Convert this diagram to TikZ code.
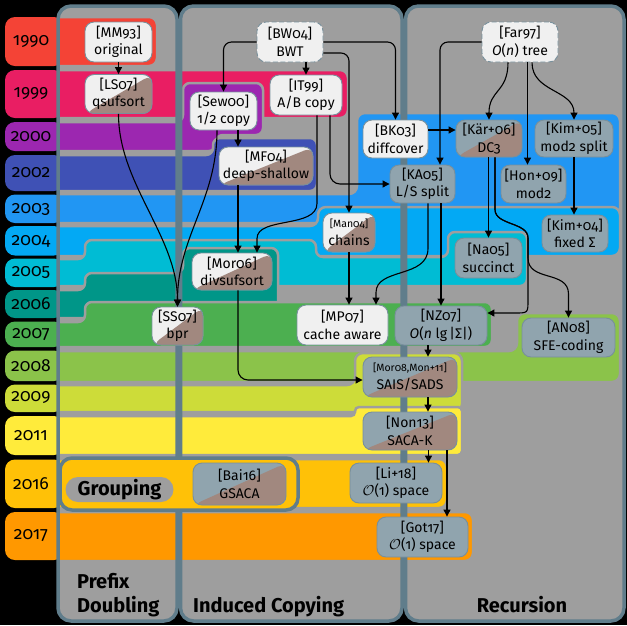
\documentclass[tikz,border=0pt]{standalone}
\usepackage{fontspec}
\setmainfont{Fira Sans}[Numbers=OldStyle]
\usetikzlibrary{arrows.meta}
\definecolor{colgray}{HTML}{9E9E9E}
\definecolor{colborder}{HTML}{607D8B}
\definecolor{ndwhite}{HTML}{F0F0F0}
\definecolor{ndgrey}{HTML}{90A4AE}
\definecolor{ndbrown}{HTML}{A1887F}
\definecolor{ndborder}{HTML}{78909C}
\definecolor{cRed}{HTML}{F44336}
\definecolor{cPink}{HTML}{E91E63}
\definecolor{cPurple}{HTML}{9C27B0}
\definecolor{cIndigo}{HTML}{3F51B5}
\definecolor{cBlue}{HTML}{2196F3}
\definecolor{cLBlue}{HTML}{03A9F4}
\definecolor{cCyan}{HTML}{00BCD4}
\definecolor{cTeal}{HTML}{009688}
\definecolor{cGreen}{HTML}{4CAF50}
\definecolor{cLGreen}{HTML}{8BC34A}
\definecolor{cLime}{HTML}{CDDC39}
\definecolor{cYellow}{HTML}{FFEB3B}
\definecolor{cAmber}{HTML}{FFC107}
\definecolor{cOrange}{HTML}{FF9800}
\newcommand{\ndfont}{\fontsize{14}{17.5}\selectfont}
\newcommand{\ndsmall}{\fontsize{10.5}{12}\selectfont}
\newcommand{\yrfont}{\fontsize{17.5}{20}\selectfont}
\newcommand{\hdfont}{\fontsize{20}{23}\selectfont\bfseries}
\begin{document}
\begin{tikzpicture}[x=1pt,y=-1pt,
  nd/.style={rounded corners=9pt, draw=ndborder, line width=0.9pt, align=center,
    inner xsep=2pt, inner ysep=1pt, font=\ndfont, text=black},
  wt/.style={nd, fill=ndwhite},
  gy/.style={nd, fill=ndgrey},
  dsh/.style={dash pattern=on 5pt off 2.5pt},
  wb/.style={nd, fill=ndwhite, path picture={\fill[ndbrown] (path picture bounding box.south west) -- (path picture bounding box.north east) -- (path picture bounding box.south east) -- cycle;}},
  gb/.style={nd, fill=ndgrey, path picture={\fill[ndbrown] (path picture bounding box.south west) -- (path picture bounding box.north east) -- (path picture bounding box.south east) -- cycle;}},
  arr/.style={-{Triangle[length=7pt,width=7pt]}, line width=1.1pt, black},
  band/.style={draw=colgray, line width=2.5pt, rounded corners=8},
  yr/.style={font=\yrfont, text=black, inner sep=0pt},
  hd/.style={font=\hdfont, text=black, inner sep=0pt, anchor=base west},
  colbox/.style={draw=colborder, line width=3.5pt, rounded corners=13}
]
\useasboundingbox (0,0) rectangle (627,625);
\fill[black] (0,0) rectangle (627,625);
% column fills
\fill[colgray, rounded corners=13] (58,6) rectangle (177,621);
\fill[colgray, rounded corners=13] (180.5,6) rectangle (402,621);
\fill[colgray, rounded corners=13] (405.5,6) rectangle (624,621);
% year bands
\filldraw[band, fill=cRed] (40,17) rectangle (157,66);
\filldraw[band, fill=cPink] (40,70) rectangle (348,118);
\filldraw[band, fill=cPurple, rounded corners=7] (40,122) -- (183,122) -- (183,83) -- (263,83) -- (263,135) -- (216,135) -- (216,151) -- (40,151) -- cycle;
\filldraw[band, fill=cIndigo, rounded corners=7] (40,155) -- (213,155) -- (213,138) -- (317,138) -- (317,191) -- (40,191) -- cycle;
\filldraw[band, fill=cBlue] (40,194) -- (357,194) -- (357,113) -- (620,113) -- (620,223) -- (40,223) -- cycle;
\filldraw[band, fill=cLBlue] (40,226) -- (318,226) -- (318,207) -- (620,207) -- (620,256) -- (40,256) -- cycle;
\filldraw[band, fill=cCyan, rounded corners=7] (40,259) -- (85,259) -- (85,240) -- (316,240) -- (316,257) -- (448,257) -- (448,232) -- (527,232) -- (527,286) -- (40,286) -- cycle;
\filldraw[band, fill=cTeal, rounded corners=7] (40,290) -- (85,290) -- (85,273) -- (183,273) -- (183,248) -- (278,248) -- (278,318) -- (40,318) -- cycle;
\filldraw[band, fill=cGreen, rounded corners=7] (40,322) -- (85,322) -- (85,302) -- (492,302) -- (492,347) -- (40,347) -- cycle;
\filldraw[band, fill=cLGreen] (40,351) -- (517,351) -- (517,313) -- (620,313) -- (620,382) -- (40,382) -- cycle;
\filldraw[band, fill=cLime] (40,385) -- (355,385) -- (355,353) -- (462,353) -- (462,412) -- (40,412) -- cycle;
\filldraw[band, fill=cYellow, rounded corners=4] (40,416) -- (355,416) -- (355,407) -- (462,407) -- (462,455) -- (40,455) -- cycle;
\filldraw[band, fill=cAmber] (40,459) rectangle (447,508);
\filldraw[band, fill=cOrange] (40,512) rectangle (473,561);
% left label area
\fill[black] (0,0) rectangle (56.5,625);
\fill[cRed, rounded corners=10] (5,17) rectangle (64,66);
\fill[cPink, rounded corners=10] (5,70) rectangle (64,118);
\fill[cPurple, rounded corners=10] (5,122) rectangle (64,151);
\fill[cIndigo, rounded corners=10] (5,155) rectangle (64,191);
\fill[cBlue, rounded corners=10] (5,194.5) rectangle (64,223);
\fill[cLBlue, rounded corners=10] (5,226) rectangle (64,255.5);
\fill[cCyan, rounded corners=10] (5,258.5) rectangle (64,287);
\fill[cTeal, rounded corners=10] (5,290) rectangle (64,318);
\fill[cGreen, rounded corners=10] (5,321.5) rectangle (64,347);
\fill[cLGreen, rounded corners=10] (5,350.5) rectangle (64,381);
\fill[cLime, rounded corners=10] (5,384.5) rectangle (64,412);
\fill[cYellow, rounded corners=10] (5,416) rectangle (64,455);
\fill[cAmber, rounded corners=10] (5,459.5) rectangle (64,508);
\fill[cOrange, rounded corners=10] (5,512) rectangle (64,560);
% column borders
\draw[colbox] (58,6) rectangle (177,621);
\draw[colbox] (180.5,6) rectangle (402,621);
\draw[colbox] (405.5,6) rectangle (624,621);
% grouping box
\filldraw[fill=cAmber, draw=colborder, line width=3.5pt, rounded corners=12] (60,458) rectangle (298,510);
\node[fill=colgray, rounded corners=12.5pt, minimum width=108pt, minimum height=25pt, inner sep=0pt, font=\hdfont] (grp) at (119.5,489.5) {Grouping};
% year labels
\node[yr] (y1990) at (31,41.5) {1990};
\node[yr] (y1999) at (31,94) {1999};
\node[yr] (y2000) at (31,136.5) {2000};
\node[yr] (y2002) at (31,173) {2002};
\node[yr] (y2003) at (31,209) {2003};
\node[yr] (y2004) at (31,241) {2004};
\node[yr] (y2005) at (31,272.5) {2005};
\node[yr] (y2006) at (31,304) {2006};
\node[yr] (y2007) at (31,334.5) {2007};
\node[yr] (y2008) at (31,366) {2008};
\node[yr] (y2009) at (31,398) {2009};
\node[yr] (y2011) at (31,435.5) {2011};
\node[yr] (y2016) at (31,484) {2016};
\node[yr] (y2017) at (31,536) {2017};
% headings
\node[hd] (h1) at (77,588) {Prefix};
\node[hd] (h2) at (77,612) {Doubling};
\node[hd] (h3) at (193,612) {Induced Copying};
\node[hd, anchor=base] (h4) at (522,612) {Recursion};
% nodes
\node[wt, minimum width=67pt, minimum height=40pt] (mm93) at (118.5,42) {[MM93]\\original};
\node[wt, dsh, minimum width=66pt, minimum height=40pt] (bw04) at (290,42) {[BW04]\\BWT};
\node[wt, dsh, minimum width=76pt, minimum height=40pt] (far97) at (520,42) {[Far97]\\\textit{O}(\textit{n}) tree};
\node[wb, minimum width=67pt, minimum height=39pt] (ls07) at (118.5,94) {[LS07]\\qsufsort};
\node[wt, minimum width=67pt, minimum height=38pt] (sew00) at (223.5,111) {[Sew00]\\1/2 copy};
\node[wt, minimum width=72pt, minimum height=40pt] (it99) at (306,95) {[IT99]\\A/B copy};
\node[wt, minimum width=65pt, minimum height=38pt] (bk03) at (395.5,139) {[BK03]\\diffcover};
\node[gb, minimum width=66pt, minimum height=37pt] (kar06) at (489,138.5) {[Kär+06]\\DC3};
\node[gy, minimum width=78pt, minimum height=37pt] (kim05) at (574,138.5) {[Kim+05]\\mod2 split};
\node[wb, minimum width=94pt, minimum height=38pt] (mf04) at (266,166) {[MF04]\\deep-shallow};
\node[gy, minimum width=65pt, minimum height=38pt] (ka05) at (422.5,184) {[KA05]\\L/S split};
\node[gy, minimum width=65pt, minimum height=38pt] (hon09) at (533.5,184) {[Hon+09]\\mod2};
\node[wb, minimum width=52pt, minimum height=39pt] (man04) at (349,232.5) {{\ndsmall [Man04]}\\chains};
\node[gy, minimum width=66pt, minimum height=37pt] (kim04) at (575,233.5) {[Kim+04]\\fixed Σ};
\node[gy, minimum width=67pt, minimum height=40pt] (na05) at (488.5,258) {[Na05]\\succinct};
\node[wb, minimum width=80pt, minimum height=37pt] (mor06) at (232,271.5) {[Mor06]\\divsufsort};
\node[wb, minimum width=51pt, minimum height=38pt] (ss07) at (177.5,326) {[SS07]\\bpr};
\node[wt, minimum width=91pt, minimum height=40pt] (mp07) at (342.5,325) {[MP07]\\cache aware};
\node[gy, minimum width=92pt, minimum height=39pt] (nz07) at (441,325.5) {[NZ07]\\\textit{O}(\textit{n} lg\,|Σ|)};
\node[gy, minimum width=93pt, minimum height=39pt] (an08) at (568.5,337.5) {[AN08]\\SFE-coding};
\node[gb, minimum width=94pt, minimum height=40pt] (sais) at (410,377) {{\ndsmall [Mor08,Mon+11]}\\SAIS/SADS};
\node[gb, minimum width=94pt, minimum height=38pt] (non13) at (410,431) {[Non13]\\SACA-K};
\node[gy, minimum width=92pt, minimum height=40pt] (li18) at (396,483) {[Li+18]\\\(\mathcal{O}\)(1) space};
\node[gy, minimum width=91pt, minimum height=40pt] (got17) at (422.5,537) {[Got17]\\\(\mathcal{O}\)(1) space};
\node[gb, minimum width=93pt, minimum height=42pt] (bai16) at (239.5,484) {[Bai16]\\GSACA};
% edges
\draw[arr] (mm93) -- (ls07);
\draw[arr,rounded corners=8] (bw04.west) -| (sew00.north);
\draw[arr] (bw04.south -| it99.north) -- (it99.north);
\draw[arr,rounded corners=8] (bw04.east) -| (bk03.north);
\draw[arr,rounded corners=8] ([yshift=-11pt]bw04.east) -| (man04.north);
\draw[arr,rounded corners=8] (far97.west) -| ([xshift=17.5pt]ka05.north);
\draw[arr] ([xshift=-12pt]far97.south) .. controls +(0,30) and +(0,-30) .. (kar06.north);
\draw[arr] ([xshift=7.5pt]far97.south) -- ([xshift=7.5pt]far97.south |- hon09.north);
\draw[arr] ([xshift=12pt]far97.south) .. controls +(0,30) and +(0,-30) .. (kim05.north);
\draw[arr] ([yshift=9pt]bk03.east) -- ([yshift=9pt]bk03.east -| kar06.west);
\draw[arr] (kim05.south) -- (kim05.south |- kim04.north);
\draw[arr] (kar06.south -| na05.north) -- (na05.north);
\draw[arr] ([xshift=6pt]kar06.south) -- ++(0,52) .. controls +(0,16) and +(0,-16) .. (528,238) -- (528,300) .. controls (528,313) .. (515,313) -- ([yshift=12.5pt]nz07.east);
\draw[arr] ([xshift=6pt]kar06.south) -- ++(0,52) .. controls +(0,16) and +(0,-16) .. (528,238) -- (528,258) .. controls (528,282) and (568.5,270) .. (568.5,294) -- (an08.north);
\draw[arr] (ka05.south -| nz07.north) -- (nz07.north);
\draw[arr] ([xshift=5.5pt]ka05.south) -- ++(0,45) .. controls +(0,30) and +(0,-25) .. ([xshift=33.5pt,yshift=12pt]mp07.north) -- ([xshift=33.5pt]mp07.north);
\draw[arr] (man04.south) -- (man04.south |- mp07.north);
\draw[arr,rounded corners=10] ([xshift=24pt]it99.south) |- (ka05.west);
\draw[arr] ([xshift=11pt]it99.south) -- ++(0,88) .. controls +(0,25) and +(0,-22) .. ([xshift=25pt,yshift=14pt]mor06.north) -- ([xshift=25pt]mor06.north);
\draw[arr] ([xshift=14.5pt]sew00.south) -- ([xshift=14.5pt]sew00.south |- mf04.north);
\draw[arr] ([xshift=-6.5pt]sew00.south) .. controls +(0,70) and +(0,-70) .. (ss07.north);
\draw[arr] (ls07.south) .. controls +(0,70) and +(0,-70) .. (ss07.north);
\draw[arr] ([xshift=-28pt]mf04.south) -- ([xshift=-28pt]mf04.south |- mor06.north);
\draw[arr,rounded corners=10] ([xshift=6pt]mor06.south) |- ([yshift=-3pt]sais.west);
\draw[arr] ([xshift=-13pt]nz07.south) -- ([xshift=-13pt]nz07.south |- sais.north);
\draw[arr] ([xshift=18pt]sais.south) -- ([xshift=18pt]sais.south |- non13.north);
\draw[arr] ([xshift=18.5pt]non13.south) -- ([xshift=18.5pt]non13.south |- li18.north);
\draw[arr] ([xshift=37pt]non13.south) -- ([xshift=37pt]non13.south |- got17.north);
\end{tikzpicture}
\end{document}
